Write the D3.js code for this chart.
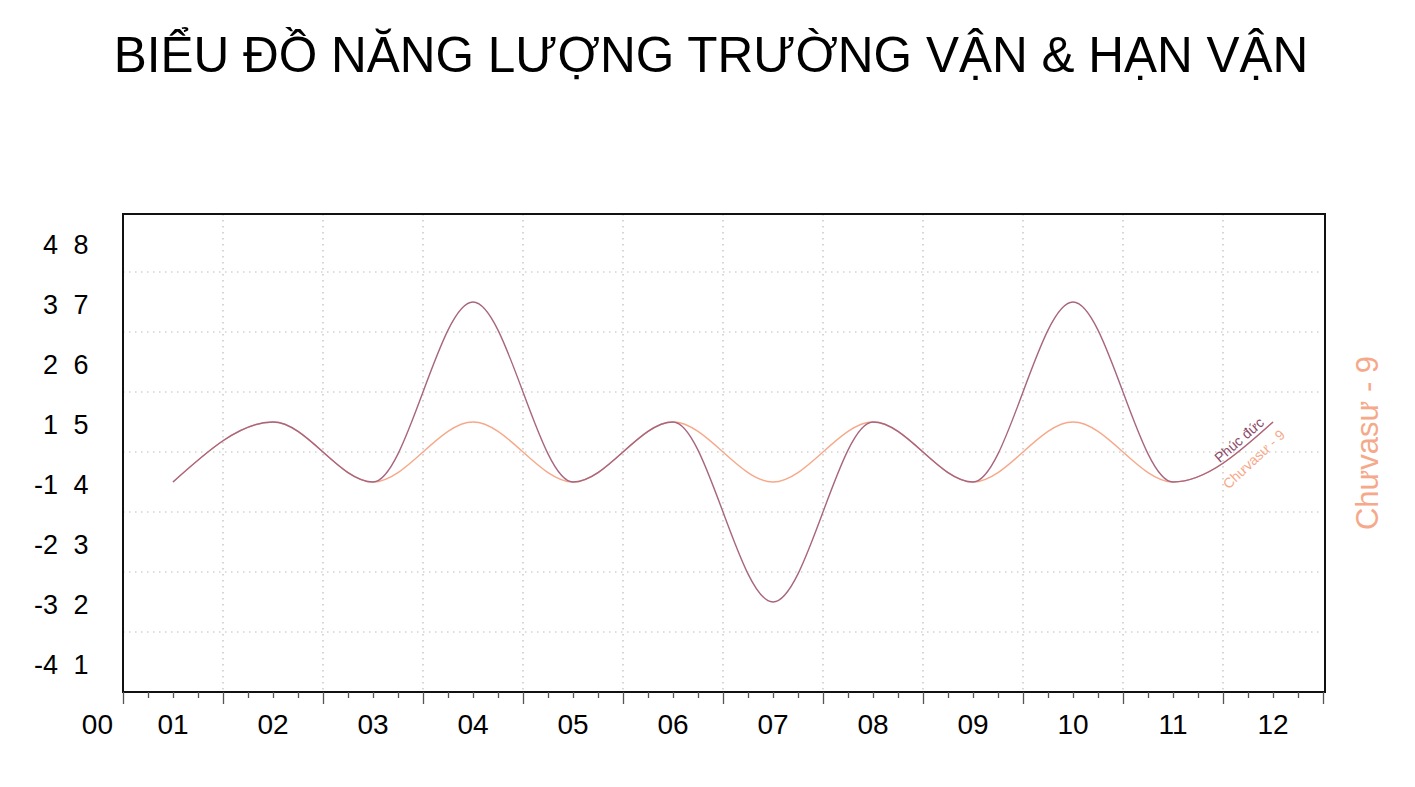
<!DOCTYPE html>
<html>
<head>
<meta charset="utf-8">
<script src="https://cdn.jsdelivr.net/npm/d3@7"></script>
<style>
  body { margin: 0; background: #fff; }
  text { font-family: "Liberation Sans", Arial, sans-serif; }
</style>
</head>
<body>
<div id="vis"></div>
<script>
// data
const months = [1, 2, 3, 4, 5, 6, 7, 8, 9, 10, 11, 12];
const monthLabels = ["00", "01", "02", "03", "04", "05", "06", "07", "08", "09", "10", "11", "12"];
const phucDuc = [4, 5, 4, 7, 4, 5, 2, 5, 4, 7, 4, 5];
const chuvasu = [4, 5, 4, 5, 4, 5, 4, 5, 4, 5, 4, 5];
const yLevels = [8, 7, 6, 5, 4, 3, 2, 1];
const yLeftLabels = ["4", "3", "2", "1", "-1", "-2", "-3", "-4"];

const W = 1415, H = 787;
const margin = { top: 214, right: 92, bottom: 95, left: 123 };
const plotW = W - margin.left - margin.right;   // 1200
const plotH = H - margin.top - margin.bottom;   // 478

const colPhuc = "#a8657f";
const colChu = "#f6a98a";

const svg = d3.select('#vis').append('svg')
  .attr('width', W).attr('height', H);

svg.append('text')
  .attr('x', 711).attr('y', 72)
  .attr('text-anchor', 'middle')
  .style('font-size', '49.5px')
  .text('BIỂU ĐỒ NĂNG LƯỢNG TRƯỜNG VẬN & HẠN VẬN');

const g = svg.append('g').attr('transform', `translate(${margin.left},${margin.top})`);

const x = d3.scaleLinear().domain([0.5, 12.5]).range([0, plotW]);
const y = d3.scaleLinear().domain([0.5, 0.5 + plotH / 60]).range([plotH, 0]);

// dotted grid
const gridX = d3.range(1.5, 12.5, 1);
const gridY = d3.range(1.5, 8, 1);
g.selectAll('.gx').data(gridX).enter().append('line')
  .attr('x1', d => x(d)).attr('x2', d => x(d))
  .attr('y1', 0).attr('y2', plotH)
  .attr('stroke', '#bbb').attr('stroke-width', 1.2)
  .attr('stroke-dasharray', '1.5,4.5');
g.selectAll('.gy').data(gridY).enter().append('line')
  .attr('x1', 0).attr('x2', plotW)
  .attr('y1', d => y(d)).attr('y2', d => y(d))
  .attr('stroke', '#bbb').attr('stroke-width', 1.2)
  .attr('stroke-dasharray', '1.5,4.5');

// lines
const line = vals => d3.line()
  .x((d, i) => x(months[i]))
  .y(d => y(d))
  .curve(d3.curveMonotoneX)(vals);

g.append('path').attr('d', line(chuvasu))
  .attr('fill', 'none').attr('stroke', colChu).attr('stroke-width', 1.4);
g.append('path').attr('d', line(phucDuc))
  .attr('fill', 'none').attr('stroke', colPhuc).attr('stroke-width', 1.4);

// labels at end of lines
const ex = x(months[months.length - 1]), ey = y(phucDuc[phucDuc.length - 1]);
g.append('text')
  .attr('transform', `translate(${ex - 8},${ey + 2}) rotate(-41)`)
  .attr('text-anchor', 'end')
  .attr('fill', '#8b4a68')
  .style('font-size', '14px')
  .text('Phúc đức');
g.append('text')
  .attr('transform', `translate(${ex + 13},${ey + 14}) rotate(-43)`)
  .attr('text-anchor', 'end')
  .attr('fill', colChu)
  .style('font-size', '14px')
  .text('Chưvasư - 9');

// frame
g.append('rect')
  .attr('x', 0).attr('y', 0)
  .attr('width', plotW + 2).attr('height', plotH)
  .attr('fill', 'none').attr('stroke', '#111').attr('stroke-width', 2);

// x ticks
const majorTicks = d3.range(0.5, 12.51, 1);
const minorTicks = d3.range(0.75, 12.5, 0.25).filter(v => Math.abs(v % 1 - 0.5) > 0.01);
g.append('g').attr('transform', `translate(0,${plotH})`)
  .call(d3.axisBottom(x).tickValues(majorTicks).tickSize(12).tickFormat(''))
  .call(a => a.select('.domain').remove())
  .call(a => a.selectAll('line').attr('stroke', '#555').attr('stroke-width', 1.3));
g.append('g').attr('transform', `translate(0,${plotH})`)
  .call(d3.axisBottom(x).tickValues(minorTicks).tickSize(6).tickFormat(''))
  .call(a => a.select('.domain').remove())
  .call(a => a.selectAll('line').attr('stroke', '#555').attr('stroke-width', 1.3));

// x labels
g.selectAll('.xl').data(monthLabels).enter().append('text')
  .attr('x', (d, i) => i === 0 ? -10 : x(i))
  .attr('y', plotH + 42)
  .attr('text-anchor', (d, i) => i === 0 ? 'end' : 'middle')
  .style('font-size', '28px')
  .text(d => d);

// y labels (two columns)
g.selectAll('.yl').data(yLevels).enter().append('text')
  .attr('x', -65).attr('y', d => y(d) + 12)
  .attr('text-anchor', 'end')
  .style('font-size', '27px')
  .text((d, i) => yLeftLabels[i]);
g.selectAll('.yr').data(yLevels).enter().append('text')
  .attr('x', -42).attr('y', d => y(d) + 12)
  .attr('text-anchor', 'middle')
  .style('font-size', '27px')
  .text(d => d);

// right side series label
svg.append('text')
  .attr('transform', `translate(1378,443) rotate(-90)`)
  .attr('text-anchor', 'middle')
  .attr('fill', colChu)
  .style('font-size', '31px')
  .text('Chưvasư - 9');
</script>
</body>
</html>
